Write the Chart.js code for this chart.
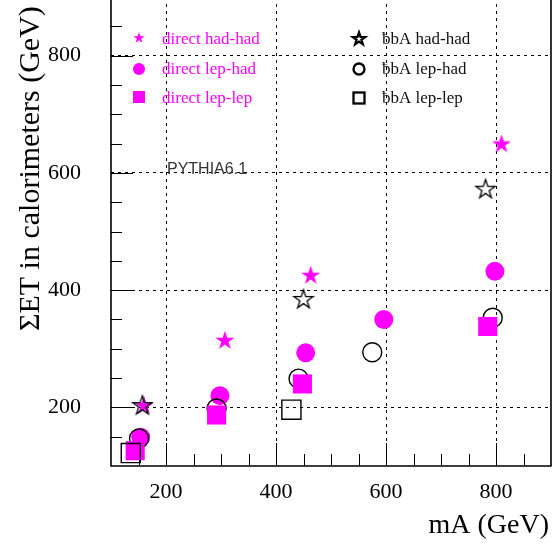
<!DOCTYPE html>
<html>
<head>
<meta charset="utf-8">
<script src="https://cdn.jsdelivr.net/npm/chart.js@4"></script>
<style>
  html, body { margin: 0; padding: 0; background: #fff; overflow: hidden; }
  #wrap { position: relative; width: 556px; height: 544px; overflow: hidden; }
  #c { position: absolute; left: 0; top: -3px; }
</style>
</head>
<body>
<div id="wrap"><canvas id="c" width="556" height="547"></canvas></div>
<script>
// mA (GeV) and sum ET in calorimeters (GeV), one pair of arrays per channel
const directHadHadMass = [160, 307, 463, 810];
const directHadHadEt = [204, 315, 426, 650];
const bbaHadHadMass = [157, 450, 781];
const bbaHadHadEt = [204, 385, 573];
const directLepHadMass = [154, 298, 454, 596, 798];
const directLepHadEt = [149, 220, 293, 350, 432];
const bbaLepHadMass = [151, 292, 441, 575, 794];
const bbaLepHadEt = [147, 198, 249, 294, 353];
const directLepLepMass = [144, 292, 448, 785];
const directLepLepEt = [126, 187, 240, 338];
const bbaLepLepMass = [136, 428];
const bbaLepLepEt = [122, 196];

const xTickLabels = [200, 400, 600, 800];
const yTickLabels = [200, 400, 600, 800];
const MINOR_STEP = 50;

const MAGENTA = "#ff00ff";
const SHIFT = 3; // canvas sits 3px above the page top

function pairs(xs, ys) {
  return xs.map((x, i) => ({ x: x, y: ys[i] }));
}

function starPath(g, cx, cy, R, r) {
  g.beginPath();
  for (let i = 0; i < 10; i++) {
    const a = -Math.PI / 2 + i * Math.PI / 5;
    const rad = i % 2 === 0 ? R : r;
    g.lineTo(cx + rad * Math.cos(a), cy + rad * Math.sin(a));
  }
  g.closePath();
}

function makeStar(R, fill, stroke, lw) {
  const size = Math.ceil(2 * R + lw + 4);
  const cv = document.createElement("canvas");
  cv.width = size;
  cv.height = size;
  const g = cv.getContext("2d");
  starPath(g, size / 2, size / 2 + 0.8, R, R * 0.382);
  if (fill) { g.fillStyle = fill; g.fill(); }
  if (stroke) { g.strokeStyle = stroke; g.lineWidth = lw; g.stroke(); }
  return cv;
}

const filledStar = makeStar(10, MAGENTA, null, 0);
const openStar = makeStar(10, null, "#000", 1.3);

// inward ticks, frame, legend and titles
const decorations = {
  id: "decorations",
  beforeDatasetsDraw(chart) {
    const ctx = chart.ctx;
    const a = chart.chartArea;
    const xs = chart.scales.x;
    const ys = chart.scales.y;
    ctx.save();
    ctx.setLineDash([]);
    ctx.strokeStyle = "#000";
    ctx.lineWidth = 1;
    ctx.beginPath();
    for (let v = xs.min + MINOR_STEP; v < xs.max; v += MINOR_STEP) {
      const px = Math.round(xs.getPixelForValue(v)) + 0.5;
      const len = xTickLabels.includes(v) ? 23 : 12;
      ctx.moveTo(px, a.bottom);
      ctx.lineTo(px, a.bottom - len);
    }
    for (let v = ys.min + MINOR_STEP; v < ys.max; v += MINOR_STEP) {
      const py = Math.round(ys.getPixelForValue(v)) + 0.5;
      const len = yTickLabels.includes(v) ? 22 : 11;
      ctx.moveTo(a.left, py);
      ctx.lineTo(a.left + len, py);
    }
    ctx.stroke();
    ctx.lineWidth = 1.6;
    ctx.beginPath();
    ctx.moveTo(a.left, a.top);
    ctx.lineTo(a.left, a.bottom);
    ctx.lineTo(a.right, a.bottom);
    ctx.lineTo(a.right, a.top);
    ctx.stroke();
    ctx.restore();
  },
  afterDraw(chart) {
    const ctx = chart.ctx;
    ctx.save();
    // legend, left column
    ctx.fillStyle = MAGENTA;
    starPath(ctx, 139, 38 + SHIFT, 6, 2.3);
    ctx.fill();
    ctx.beginPath();
    ctx.arc(139, 69 + SHIFT, 6, 0, Math.PI * 2);
    ctx.fill();
    ctx.fillRect(133, 91 + SHIFT, 12, 12);
    ctx.font = '17px "Liberation Serif"';
    ctx.textBaseline = "alphabetic";
    ctx.textAlign = "left";
    ctx.fillText("direct had-had", 162, 44 + SHIFT);
    ctx.fillText("direct lep-had", 162, 74 + SHIFT);
    ctx.fillText("direct lep-lep", 162, 103 + SHIFT);
    // legend, right column
    ctx.strokeStyle = "#000";
    ctx.lineWidth = 2.3;
    starPath(ctx, 359, 39 + SHIFT, 6.5, 2.6);
    ctx.stroke();
    ctx.beginPath();
    ctx.arc(359, 69 + SHIFT, 5.5, 0, Math.PI * 2);
    ctx.stroke();
    ctx.strokeRect(353.5, 92.5 + SHIFT, 11, 11);
    ctx.fillStyle = "#111";
    ctx.fillText("ƀbA had-had", 382, 44 + SHIFT);
    ctx.fillText("ƀbA lep-had", 382, 74 + SHIFT);
    ctx.fillText("ƀbA lep-lep", 382, 103 + SHIFT);
    // generator label
    ctx.fillStyle = "#333";
    ctx.font = '16px "Liberation Sans"';
    ctx.fillText("PYTHIA6.1", 167, 174 + SHIFT);
    // axis titles
    ctx.fillStyle = "#000";
    ctx.font = '28px "Liberation Serif"';
    ctx.textAlign = "right";
    ctx.fillText("mA (GeV)", 549, 533 + SHIFT);
    ctx.font = '30px "Liberation Serif"';
    ctx.translate(39, 331 + SHIFT);
    ctx.rotate(-Math.PI / 2);
    ctx.textAlign = "left";
    ctx.fillText("ΣET in calorimeters (GeV)", 0, 0);
    ctx.restore();
  }
};

function gridColor(labels) {
  return c => (c.tick && labels.includes(c.tick.value)) ? "#000" : "rgba(0,0,0,0)";
}

function noEdgePadding(s) {
  s.paddingTop = 0;
  s.paddingBottom = 0;
  s.paddingLeft = 0;
  s.paddingRight = 0;
}

const ctx = document.getElementById("c").getContext("2d");
const chart = new Chart(ctx, {
  type: "scatter",
  data: {
    datasets: [
      { label: "direct had-had", data: pairs(directHadHadMass, directHadHadEt), order: 5,
        pointStyle: filledStar },
      { label: "bbA had-had", data: pairs(bbaHadHadMass, bbaHadHadEt), order: 4,
        pointStyle: openStar },
      { label: "direct lep-had", data: pairs(directLepHadMass, directLepHadEt), order: 3,
        pointStyle: "circle", pointRadius: 9.5, backgroundColor: MAGENTA, borderWidth: 0 },
      { label: "bbA lep-had", data: pairs(bbaLepHadMass, bbaLepHadEt), order: 2,
        pointStyle: "circle", pointRadius: 9.5, backgroundColor: "rgba(0,0,0,0)",
        borderColor: "#000", borderWidth: 1.4 },
      { label: "direct lep-lep", data: pairs(directLepLepMass, directLepLepEt), order: 1,
        pointStyle: "rect", pointRadius: 13.5, backgroundColor: MAGENTA, borderWidth: 0 },
      { label: "bbA lep-lep", data: pairs(bbaLepLepMass, bbaLepLepEt), order: 0,
        pointStyle: "rect", pointRadius: 13.5, backgroundColor: "rgba(0,0,0,0)",
        borderColor: "#000", borderWidth: 1.4 }
    ]
  },
  options: {
    responsive: false,
    animation: false,
    events: [],
    devicePixelRatio: 1,
    layout: { autoPadding: false, padding: { left: 0, right: 5, top: 0, bottom: 0 } },
    plugins: { legend: { display: false }, tooltip: { enabled: false } },
    scales: {
      x: {
        type: "linear",
        min: 100,
        max: 900,
        afterFit: s => { s.height = 78; noEdgePadding(s); },
        ticks: {
          stepSize: MINOR_STEP,
          maxTicksLimit: 30,
          autoSkip: false,
          maxRotation: 0,
          padding: 13,
          color: "#000",
          font: { family: "Liberation Serif", size: 22 },
          callback: v => xTickLabels.includes(v) ? String(v) : ""
        },
        grid: { color: gridColor(xTickLabels), lineWidth: 1, drawTicks: false },
        border: { display: false, dash: [3, 4] }
      },
      y: {
        type: "linear",
        min: 100,
        max: 900,
        afterFit: s => { s.width = 111; noEdgePadding(s); },
        ticks: {
          stepSize: MINOR_STEP,
          maxTicksLimit: 30,
          autoSkip: false,
          padding: 30,
          color: "#000",
          font: { family: "Liberation Serif", size: 22 },
          callback: v => yTickLabels.includes(v) ? String(v) : ""
        },
        grid: { color: gridColor(yTickLabels), lineWidth: 1, drawTicks: false },
        border: { display: false, dash: [3, 4] }
      }
    }
  },
  plugins: [decorations]
});
</script>
</body>
</html>
